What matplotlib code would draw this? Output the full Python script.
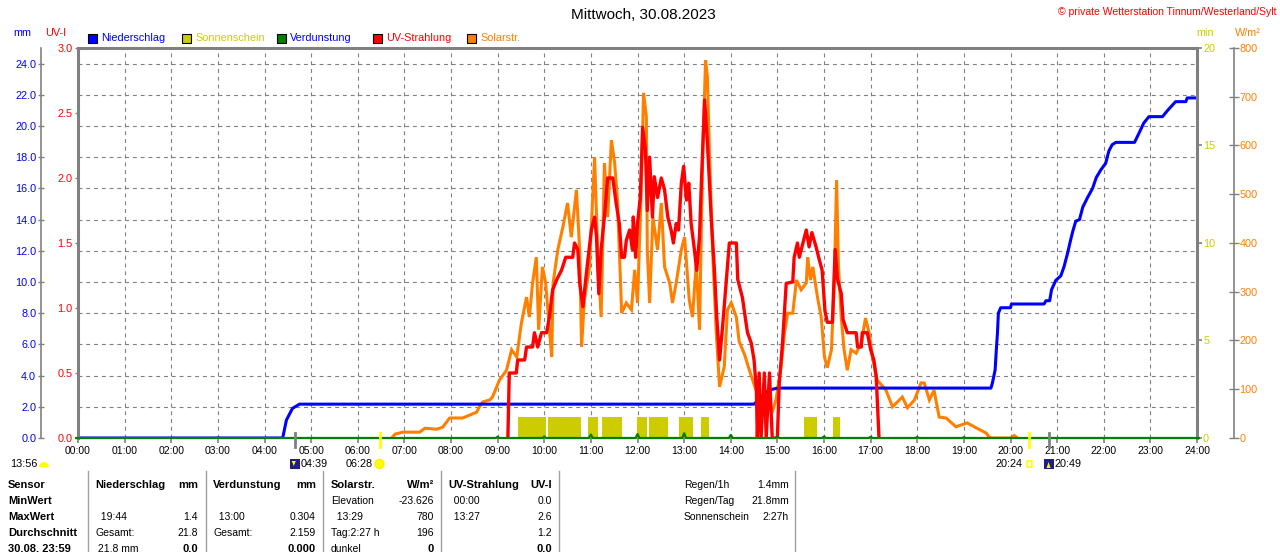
import matplotlib
matplotlib.use('Agg')
import numpy as np
import matplotlib.pyplot as plt
from matplotlib.patches import Rectangle, Circle, Wedge, Polygon
from matplotlib.lines import Line2D
from matplotlib.transforms import IdentityTransform

plt.rcParams['font.family'] = ['Liberation Sans', 'DejaVu Sans']

# ---- data (hours of day) ----
rain_t = [0, 4.39, 4.47, 4.6, 4.75, 14.5, 14.61, 14.76, 14.83, 15.0, 19.58, 19.61, 19.67, 19.7,
          19.72, 19.74, 19.79, 20.0, 20.02, 20.72, 20.76, 20.84, 20.88, 20.97, 21.08, 21.15, 21.22,
          21.29, 21.34, 21.4, 21.48, 21.55, 21.65, 21.76, 21.84, 21.94, 22.04, 22.11, 22.18, 22.26,
          22.66, 22.75, 22.86, 22.97, 23.26, 23.37, 23.54, 23.76, 23.79, 23.97]
rain_mm = [0, 0, 1.15, 1.9, 2.17, 2.17, 2.5, 2.95, 3.08, 3.2, 3.2, 3.5, 4.36, 5.85,
           6.7, 8.0, 8.35, 8.35, 8.59, 8.59, 8.8, 8.8, 9.5, 10.1, 10.4, 11.0, 11.8,
           12.7, 13.3, 13.9, 14.0, 14.8, 15.4, 16.0, 16.7, 17.2, 17.6, 18.4, 18.8, 18.95,
           18.95, 19.5, 20.2, 20.6, 20.6, 21.0, 21.56, 21.56, 21.8, 21.8]

solar_t = [6.73, 6.8, 6.97, 7.33, 7.44, 7.69, 7.82, 7.97, 8.25, 8.55, 8.61, 8.68, 8.83, 8.89,
           9.04, 9.19, 9.30, 9.41, 9.51, 9.62, 9.68, 9.75, 9.83, 9.88, 9.96, 10.03, 10.16, 10.19,
           10.29, 10.40, 10.50, 10.58, 10.69, 10.76, 10.80, 10.86, 10.97, 11.08, 11.15, 11.22,
           11.29, 11.36, 11.44, 11.51, 11.57, 11.66, 11.76, 11.87, 11.94, 12.00, 12.08, 12.13,
           12.19, 12.21, 12.26, 12.33, 12.43, 12.51, 12.58, 12.69, 12.75, 12.83, 12.94, 13.01,
           13.11, 13.18, 13.26, 13.33, 13.40, 13.46, 13.50, 13.54, 13.61, 13.69, 13.76, 13.86,
           13.93, 14.01, 14.12, 14.18, 14.3, 14.4, 14.5, 14.61, 14.76, 14.90, 14.97, 15.08,
           15.15, 15.22, 15.33, 15.41, 15.51, 15.62, 15.65, 15.71, 15.76, 15.86, 15.94, 16.01,
           16.07, 16.16, 16.22, 16.27, 16.31, 16.37, 16.43, 16.50, 16.58, 16.69, 16.80, 16.89,
           16.97, 17.04, 17.14, 17.33, 17.47, 17.68, 17.79, 17.94, 18.08, 18.15, 18.26, 18.36,
           18.47, 18.62, 18.83, 19.07, 19.26, 19.48, 19.54, 19.6, 20.0, 20.08, 20.15]
solar_w = [0, 8, 12, 12, 20, 18, 22, 41, 41, 53, 64, 74, 78, 84,
           119, 139, 181, 166, 236, 289, 248, 318, 371, 222, 351, 318, 166, 318,
           386, 433, 482, 412, 509, 386, 187, 283, 351, 576, 371, 248,
           564, 453, 611, 564, 488, 256, 277, 263, 345, 277, 509, 708,
           659, 386, 277, 453, 386, 482, 351, 318, 277, 318, 386, 412,
           283, 248, 359, 222, 591, 775, 740, 591, 386, 215, 105, 146,
           263, 277, 248, 198, 170, 139, 110, 80, 72, 57, 78, 146,
           215, 256, 256, 324, 304, 318, 371, 324, 351, 289, 248, 166,
           144, 181, 318, 529, 351, 248, 181, 139, 181, 174, 195, 246,
           215, 166, 119, 98, 64, 84, 62, 78, 113, 113, 78, 98,
           43, 41, 23, 31, 21, 10, 2, 0, 0, 5, 0]

uv_t = [9.22, 9.25, 9.40, 9.43, 9.58, 9.62, 9.75, 9.79, 9.86, 9.94, 10.05, 10.11, 10.18, 10.27,
        10.37, 10.46, 10.61, 10.65, 10.72, 10.76, 10.83, 10.88, 10.93, 11.01, 11.08, 11.12, 11.17,
        11.22, 11.29, 11.36, 11.47, 11.54, 11.61, 11.66, 11.72, 11.76, 11.83, 11.89, 11.91, 11.96,
        12.00, 12.06, 12.11, 12.17, 12.21, 12.26, 12.32, 12.36, 12.43, 12.51, 12.58, 12.65, 12.72,
        12.77, 12.83, 12.88, 12.94, 12.99, 13.05, 13.10, 13.15, 13.22, 13.27, 13.33, 13.37, 13.44,
        13.50, 13.58, 13.65, 13.70, 13.76, 13.83, 13.90, 13.97, 14.12, 14.15, 14.25, 14.33, 14.36,
        14.44, 14.50, 14.55, 14.57, 14.61, 14.65, 14.72, 14.76, 14.83, 14.89, 15.00, 15.04, 15.11,
        15.19, 15.33, 15.36, 15.43, 15.47, 15.62, 15.68, 15.74, 15.83, 15.90, 15.96, 16.02, 16.07,
        16.18, 16.24, 16.29, 16.37, 16.41, 16.50, 16.69, 16.72, 16.80, 16.82, 16.93, 17.00, 17.07,
        17.12, 17.18]
uv_i = [0, 0.5, 0.5, 0.6, 0.6, 0.7, 0.7, 0.81, 0.7, 0.81, 0.81, 0.93, 1.14, 1.22,
        1.29, 1.39, 1.39, 1.5, 1.45, 1.19, 1.01, 1.19, 1.35, 1.6, 1.7, 1.55, 1.11,
        1.45, 1.7, 2.0, 2.0, 1.81, 1.65, 1.39, 1.39, 1.52, 1.6, 1.45, 1.7, 1.39,
        1.65, 1.85, 2.39, 2.22, 1.75, 2.16, 1.7, 2.01, 1.85, 2.0, 1.91, 1.7, 1.6,
        1.5, 1.65, 1.6, 1.96, 2.09, 1.83, 1.96, 1.65, 1.45, 1.29, 1.55, 1.96, 2.6,
        2.27, 1.7, 1.29, 0.93, 0.6, 0.88, 1.19, 1.5, 1.5, 1.22, 1.08, 0.88, 0.81,
        0.73, 0.6, 0.37, 0, 0.5, 0, 0.5, 0, 0.5, 0, 0, 0.42, 0.73,
        1.19, 1.2, 1.39, 1.5, 1.39, 1.6, 1.47, 1.58, 1.47, 1.37, 1.29, 0.98, 0.89,
        0.89, 1.45, 1.22, 1.11, 0.91, 0.81, 0.81, 0.7, 0.7, 0.81, 0.81, 0.68, 0.6,
        0.47, 0]

sun_start = [9.43, 10.07, 10.93, 11.23, 11.98, 12.24, 12.88, 13.37, 15.58, 16.2]
sun_end = [10.03, 10.78, 11.16, 11.66, 12.21, 12.66, 13.18, 13.54, 15.86, 16.35]
sun_min = [1.1, 1.1, 1.1, 1.1, 1.1, 1.1, 1.1, 1.1, 1.1, 1.1]

evap_hour = list(range(25))
evap_mm = [0, 0, 0, 0.03, 0, 0, 0, 0, 0, 0.08, 0.1, 0.22, 0.25, 0.304, 0.2, 0.1, 0.1,
           0.08, 0.06, 0.05, 0, 0, 0, 0, 0]

hour_labels = ['%02d:00' % h for h in range(25)]
mm_ticks = np.arange(0, 25, 2)
uv_ticks = np.arange(0, 3.01, 0.5)
min_ticks = [0, 5, 10, 15, 20]
w_ticks = np.arange(0, 801, 100)

twilight = [('dawn', 4 + 39 / 60, '04:39'), ('rise', 6 + 28 / 60, '06:28'),
            ('set', 20 + 24 / 60, '20:24'), ('dusk', 20 + 49 / 60, '20:49')]

BLUE, RED, ORANGE, OLIVE, GREEN = '#0000ff', '#ff0000', '#ff8000', '#cccc00', '#008000'
GREY = '#808080'

W, H = 1280, 552
fig = plt.figure(figsize=(12.8, 5.52), dpi=100)


def fx(x):
    return x / W


def fy(y):
    return 1 - y / H


ax = fig.add_axes([fx(78), fy(438), (1197 - 78) / W, 390 / H])
ax.set_xlim(0, 24)
ax.set_ylim(0, 25)
for s in ['top', 'right']:
    ax.spines[s].set_visible(False)
ax.spines['left'].set_position(('outward', 37 * 0.72))
ax.spines['left'].set_color(GREY)
ax.spines['left'].set_linewidth(1.2)
ax.spines['bottom'].set_color(GREY)
ax.spines['bottom'].set_linewidth(1.2)
ax.set_yticks(mm_ticks)
ax.set_yticklabels(['%.1f' % v for v in mm_ticks])
ax.tick_params(axis='y', direction='inout', length=5, width=1, colors=GREY,
               labelcolor=BLUE, labelsize=7.8, pad=1)
ax.set_xticks(range(25))
ax.set_xticklabels(hour_labels)
ax.tick_params(axis='x', direction='out', length=3.6, width=1.2, colors=GREY,
               labelcolor='black', labelsize=7.5, pad=2.5)
ax.grid(True, color=GREY, linewidth=0.8, linestyle=(0, (3.5, 3.5)))
ax.set_axisbelow(True)

# sunshine minutes
ax_min = ax.twinx()
ax_min.set_ylim(0, 20)
for s in ax_min.spines.values():
    s.set_visible(False)
ax_min.set_yticks(min_ticks)
ax_min.set_yticklabels([str(v) for v in min_ticks])
ax_min.tick_params(axis='y', direction='out', length=3.6, width=1.2, colors=GREY,
                   labelcolor=OLIVE, labelsize=7.8, pad=0.8)
ax_min.bar(sun_start, sun_min, width=np.array(sun_end) - np.array(sun_start),
           align='edge', color=OLIVE, linewidth=0)

# solar radiation
ax_w = ax.twinx()
ax_w.set_ylim(0, 800)
for s in ['top', 'left', 'bottom']:
    ax_w.spines[s].set_visible(False)
ax_w.spines['right'].set_position(('outward', 37 * 0.72))
ax_w.spines['right'].set_color(GREY)
ax_w.spines['right'].set_linewidth(1.2)
ax_w.set_yticks(w_ticks)
ax_w.set_yticklabels([str(v) for v in w_ticks])
ax_w.tick_params(axis='y', direction='inout', length=6.5, width=1, colors=GREY,
                 labelcolor=ORANGE, labelsize=7.8, pad=0.8)
ax_w.plot(solar_t, solar_w, color=ORANGE, lw=2.2, solid_joinstyle='miter')

# rain
ax_rain = ax.twinx()
ax_rain.set_ylim(0, 25)
ax_rain.axis('off')
ax_rain.plot(rain_t, rain_mm, color=BLUE, lw=2.2)

# UV index + frame
ax_uv = ax.twinx()
ax_uv.set_ylim(0, 3)
ax_uv.yaxis.tick_left()
ax_uv.spines['bottom'].set_visible(False)
for s in ['left', 'top', 'right']:
    ax_uv.spines[s].set_color(GREY)
    ax_uv.spines[s].set_linewidth(2.2)
ax_uv.set_yticks(uv_ticks)
ax_uv.set_yticklabels(['%.1f' % v for v in uv_ticks])
ax_uv.tick_params(axis='y', direction='out', length=2.5, width=1, colors=GREY,
                  labelcolor=RED, labelsize=7.8, pad=1.5)
ax_uv.plot(uv_t, uv_i, color=RED, lw=2.4)

# evaporation, on top
ax_ev = ax.twinx()
ax_ev.set_ylim(0, 25)
ax_ev.set_xlim(0, 24)
ax_ev.axis('off')
ev_x, ev_y = [], []
for h, v in zip(evap_hour, evap_mm):
    ev_x += [h - 0.04, h, h + 0.04]
    ev_y += [0, v, 0]
ax_ev.plot(ev_x, ev_y, color=GREEN, lw=1.6, clip_on=False)

# twilight markers
for kind, t, lab in twilight:
    col = GREY if kind in ('dawn', 'dusk') else '#ffff00'
    ax_ev.plot([t, t], [-0.023, 0.013], transform=ax_ev.get_xaxis_transform(),
               color=col, lw=2, clip_on=False)

fig.canvas.draw()
ID = IdentityTransform()


def xpix(t):
    return ax.transData.transform((t, 0))[0]


ty = H - 464
for kind, t, lab in twilight:
    xp = xpix(t)
    if kind == 'dawn' or kind == 'dusk':
        fig.add_artist(Rectangle((xp - 5, ty - 5), 10, 10, transform=ID,
                                 facecolor='#202080', edgecolor='none'))
        if kind == 'dawn':
            tri = [(xp - 3, ty + 3), (xp + 1, ty + 3), (xp - 1, ty - 2)]
        else:
            tri = [(xp - 2, ty - 4), (xp + 2, ty - 4), (xp, ty + 2)]
        fig.add_artist(Polygon(tri, closed=True, transform=ID, facecolor='#ffff00',
                               edgecolor='none'))
        fig.text((xp + 6) / W, ty / H, lab, ha='left', va='center', fontsize=7.8)
    elif kind == 'rise':
        fig.add_artist(Circle((xp, ty), 4.5, transform=ID, facecolor='#ffff00',
                              edgecolor='#ffee00'))
        fig.text((xp - 7) / W, ty / H, lab, ha='right', va='center', fontsize=7.8)
    else:
        fig.add_artist(Rectangle((xp - 2.5, ty - 3), 5, 6, transform=ID,
                                 facecolor='none', edgecolor='#ffff00', lw=1.2))
        fig.text((xp - 7) / W, ty / H, lab, ha='right', va='center', fontsize=7.8)

fig.text(fx(10), fy(464), '13:56', ha='left', va='center', fontsize=7.8)
fig.add_artist(Wedge((44, H - 467), 5, 0, 180, transform=ID, facecolor='#ffff00',
                     edgecolor='none'))

# header texts
fig.text(fx(643), fy(15), 'Mittwoch, 30.08.2023', ha='center', va='center', fontsize=11)
fig.text(fx(1276), fy(12), '\u00a9 private Wetterstation Tinnum/Westerland/Sylt',
         ha='right', va='center', fontsize=7.5, color=RED)
fig.text(fx(22), fy(33), 'mm', ha='center', va='center', fontsize=7.8, color=BLUE)
fig.text(fx(56), fy(33), 'UV-I', ha='center', va='center', fontsize=7.8, color=RED)
fig.text(fx(1205), fy(33), 'min', ha='center', va='center', fontsize=7.8, color=OLIVE)
fig.text(fx(1248), fy(33), 'W/m\u00b2', ha='center', va='center', fontsize=7.8, color=ORANGE)

legend_names = ['Niederschlag', 'Sonnenschein', 'Verdunstung', 'UV-Strahlung', 'Solarstr.']
legend_box = [BLUE, OLIVE, GREEN, RED, ORANGE]
legend_text = [BLUE, OLIVE, BLUE, RED, ORANGE]
legend_x = [88, 182, 277, 373, 467]
for name, bc, tc, lx in zip(legend_names, legend_box, legend_text, legend_x):
    fig.add_artist(Rectangle((lx, H - 42.5), 9, 9, transform=ID, facecolor=bc,
                             edgecolor='black', lw=0.8))
    fig.text(fx(lx + 13), fy(38), name, ha='left', va='center', fontsize=7.8, color=tc)

# table
row_y = [485, 501, 517, 533, 549]
sensor_rows = ['Sensor', 'MinWert', 'MaxWert', 'Durchschnitt', '30.08. 23:59']
for yy, s in zip(row_y, sensor_rows):
    fig.text(fx(8), fy(yy), s, ha='left', va='center', fontsize=8, fontweight='bold')

blocks = [
    (95, 198, 'Niederschlag', 'mm',
     [('', ''), ('  19:44', '1.4'), ('Gesamt:', '21.8'), (' 21.8 mm', '0.0')]),
    (213, 316, 'Verdunstung', 'mm',
     [('', ''), ('  13:00', '0.304'), ('Gesamt:', '2.159'), ('', '0.000')]),
    (331, 434, 'Solarstr.', 'W/m\u00b2',
     [('Elevation', '-23.626'), ('  13:29', '780'), ('Tag:2:27 h', '196'), ('dunkel', '0')]),
    (448, 552, 'UV-Strahlung', 'UV-I',
     [('  00:00', '0.0'), ('  13:27', '2.6'), ('', '1.2'), ('', '0.0')]),
]
for x0, x1, head, unit, rows in blocks:
    fig.text(fx(x0), fy(row_y[0]), head, ha='left', va='center', fontsize=8, fontweight='bold')
    fig.text(fx(x1), fy(row_y[0]), unit, ha='right', va='center', fontsize=8, fontweight='bold')
    for i, (lab, val) in enumerate(rows):
        yy = row_y[i + 1]
        last = i == len(rows) - 1
        fig.text(fx(x0), fy(yy), lab, ha='left', va='center', fontsize=7.5)
        fig.text(fx(x1), fy(yy), val, ha='right', va='center',
                 fontsize=8 if last else 7.5, fontweight='bold' if last else 'normal')

info_lab = ['Regen/1h', 'Regen/Tag', 'Sonnenschein']
info_val = ['1.4mm', '21.8mm', '2:27h']
for yy, a, b in zip(row_y, info_lab, info_val):
    fig.text(fx(684), fy(yy), a, ha='left', va='center', fontsize=7.5)
    fig.text(fx(789), fy(yy), b, ha='right', va='center', fontsize=7.5)

for sx in [88, 206, 323, 441, 559, 795]:
    fig.add_artist(Line2D([fx(sx), fx(sx)], [fy(471), fy(552)], color='#a0a0a0', lw=1))

fig.savefig('out.png', dpi=100)
